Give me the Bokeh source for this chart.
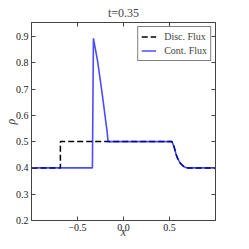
from bokeh.plotting import figure
from bokeh.models import LinearAxis, Legend, LegendItem, Range1d, FixedTicker
from bokeh.embed import file_html
from bokeh.resources import INLINE

# ---- data ----
disc_x = [-1.0, -0.686, -0.686, 0.527, 0.55, 0.572, 0.59, 0.613, 0.64, 0.664, 0.70, 1.0]
disc_y = [0.4, 0.4, 0.5, 0.5, 0.48, 0.451, 0.435, 0.42, 0.41, 0.403, 0.4, 0.4]
cont_x = [-1.0, -0.338, -0.327, -0.31, -0.281, -0.23, -0.178, -0.168,
          0.527, 0.55, 0.572, 0.59, 0.613, 0.64, 0.664, 0.70, 1.0]
cont_y = [0.4, 0.4, 0.893, 0.86, 0.805, 0.678, 0.537, 0.5,
          0.5, 0.48, 0.451, 0.435, 0.42, 0.41, 0.403, 0.4, 0.4]
x_ticks = [-0.5, 0.0, 0.5]
x_tick_labels = {-0.5: "\u22120.5", 0.0: "0.0", 0.5: "0.5"}
y_ticks = [0.2, 0.3, 0.4, 0.5, 0.6, 0.7, 0.8, 0.9]
title_text = "t=0.35"
x_label = "x"
y_label = "\u03c1"
legend_labels = ["Disc. Flux", "Cont. Flux"]

FONT = "Liberation Serif"
FRAME = "#444444"

p = figure(width=233, height=241, output_backend="svg", toolbar_location=None,
           x_range=Range1d(-1.0, 1.0), y_range=Range1d(0.2, 0.953),
           min_border_left=4, min_border_right=18, min_border_top=16, min_border_bottom=4,
           x_axis_location=None, y_axis_location=None, title=title_text)
p.title.align = "center"
p.title.text_font = FONT
p.title.text_font_size = "12px"
p.title.text_font_style = "normal"
p.title.standoff = 6
p.title.offset = 0
p.grid.visible = False
p.outline_line_color = FRAME
p.outline_line_width = 1
p.background_fill_color = "white"
p.border_fill_color = "white"

def style_axis(ax, ticks, show_labels, standoff=4):
    ax.ticker = FixedTicker(ticks=ticks)
    ax.major_tick_in = 4
    ax.major_tick_out = 0
    ax.minor_tick_line_color = None
    ax.axis_line_color = FRAME
    ax.major_tick_line_color = FRAME
    ax.major_label_standoff = standoff
    ax.major_label_text_font = FONT
    ax.major_label_text_font_size = "10px"
    ax.major_label_text_color = "#222222"
    if not show_labels:
        ax.major_label_overrides = {t: "" for t in ticks}

xb = LinearAxis(axis_label=x_label)
style_axis(xb, x_ticks, True, 3)
xb.major_label_overrides = x_tick_labels
xb.axis_label_standoff = -9
xb.axis_label_text_font = FONT
xb.axis_label_text_font_size = "12px"
xb.axis_label_text_font_style = "italic"
p.add_layout(xb, "below")
xa = LinearAxis()
style_axis(xa, x_ticks, False, 0)
p.add_layout(xa, "above")
yl = LinearAxis(axis_label=y_label)
style_axis(yl, y_ticks, True, 3)
yl.axis_label_standoff = -5
yl.axis_label_text_font = FONT
yl.axis_label_text_font_size = "12px"
yl.axis_label_text_font_style = "italic"
p.add_layout(yl, "left")
yr = LinearAxis()
style_axis(yr, y_ticks, False, 0)
p.add_layout(yr, "right")

r1 = p.line(disc_x, disc_y, line_color="black", line_width=1.5, line_dash="6 3")
r2 = p.line(cont_x, cont_y, line_color="#0000ff", line_alpha=0.7, line_width=1.6)

legend = Legend(items=[LegendItem(label=legend_labels[0], renderers=[r1]),
                       LegendItem(label=legend_labels[1], renderers=[r2])],
                location="top_right", margin=4, padding=3, spacing=1,
                glyph_width=15, glyph_height=13, label_height=13, label_standoff=8,
                label_text_font=FONT, label_text_font_size="10px",
                border_line_color="black", border_line_width=1,
                background_fill_color="white", background_fill_alpha=1.0)
p.add_layout(legend)

open("out.html", "w").write(file_html(p, INLINE))
